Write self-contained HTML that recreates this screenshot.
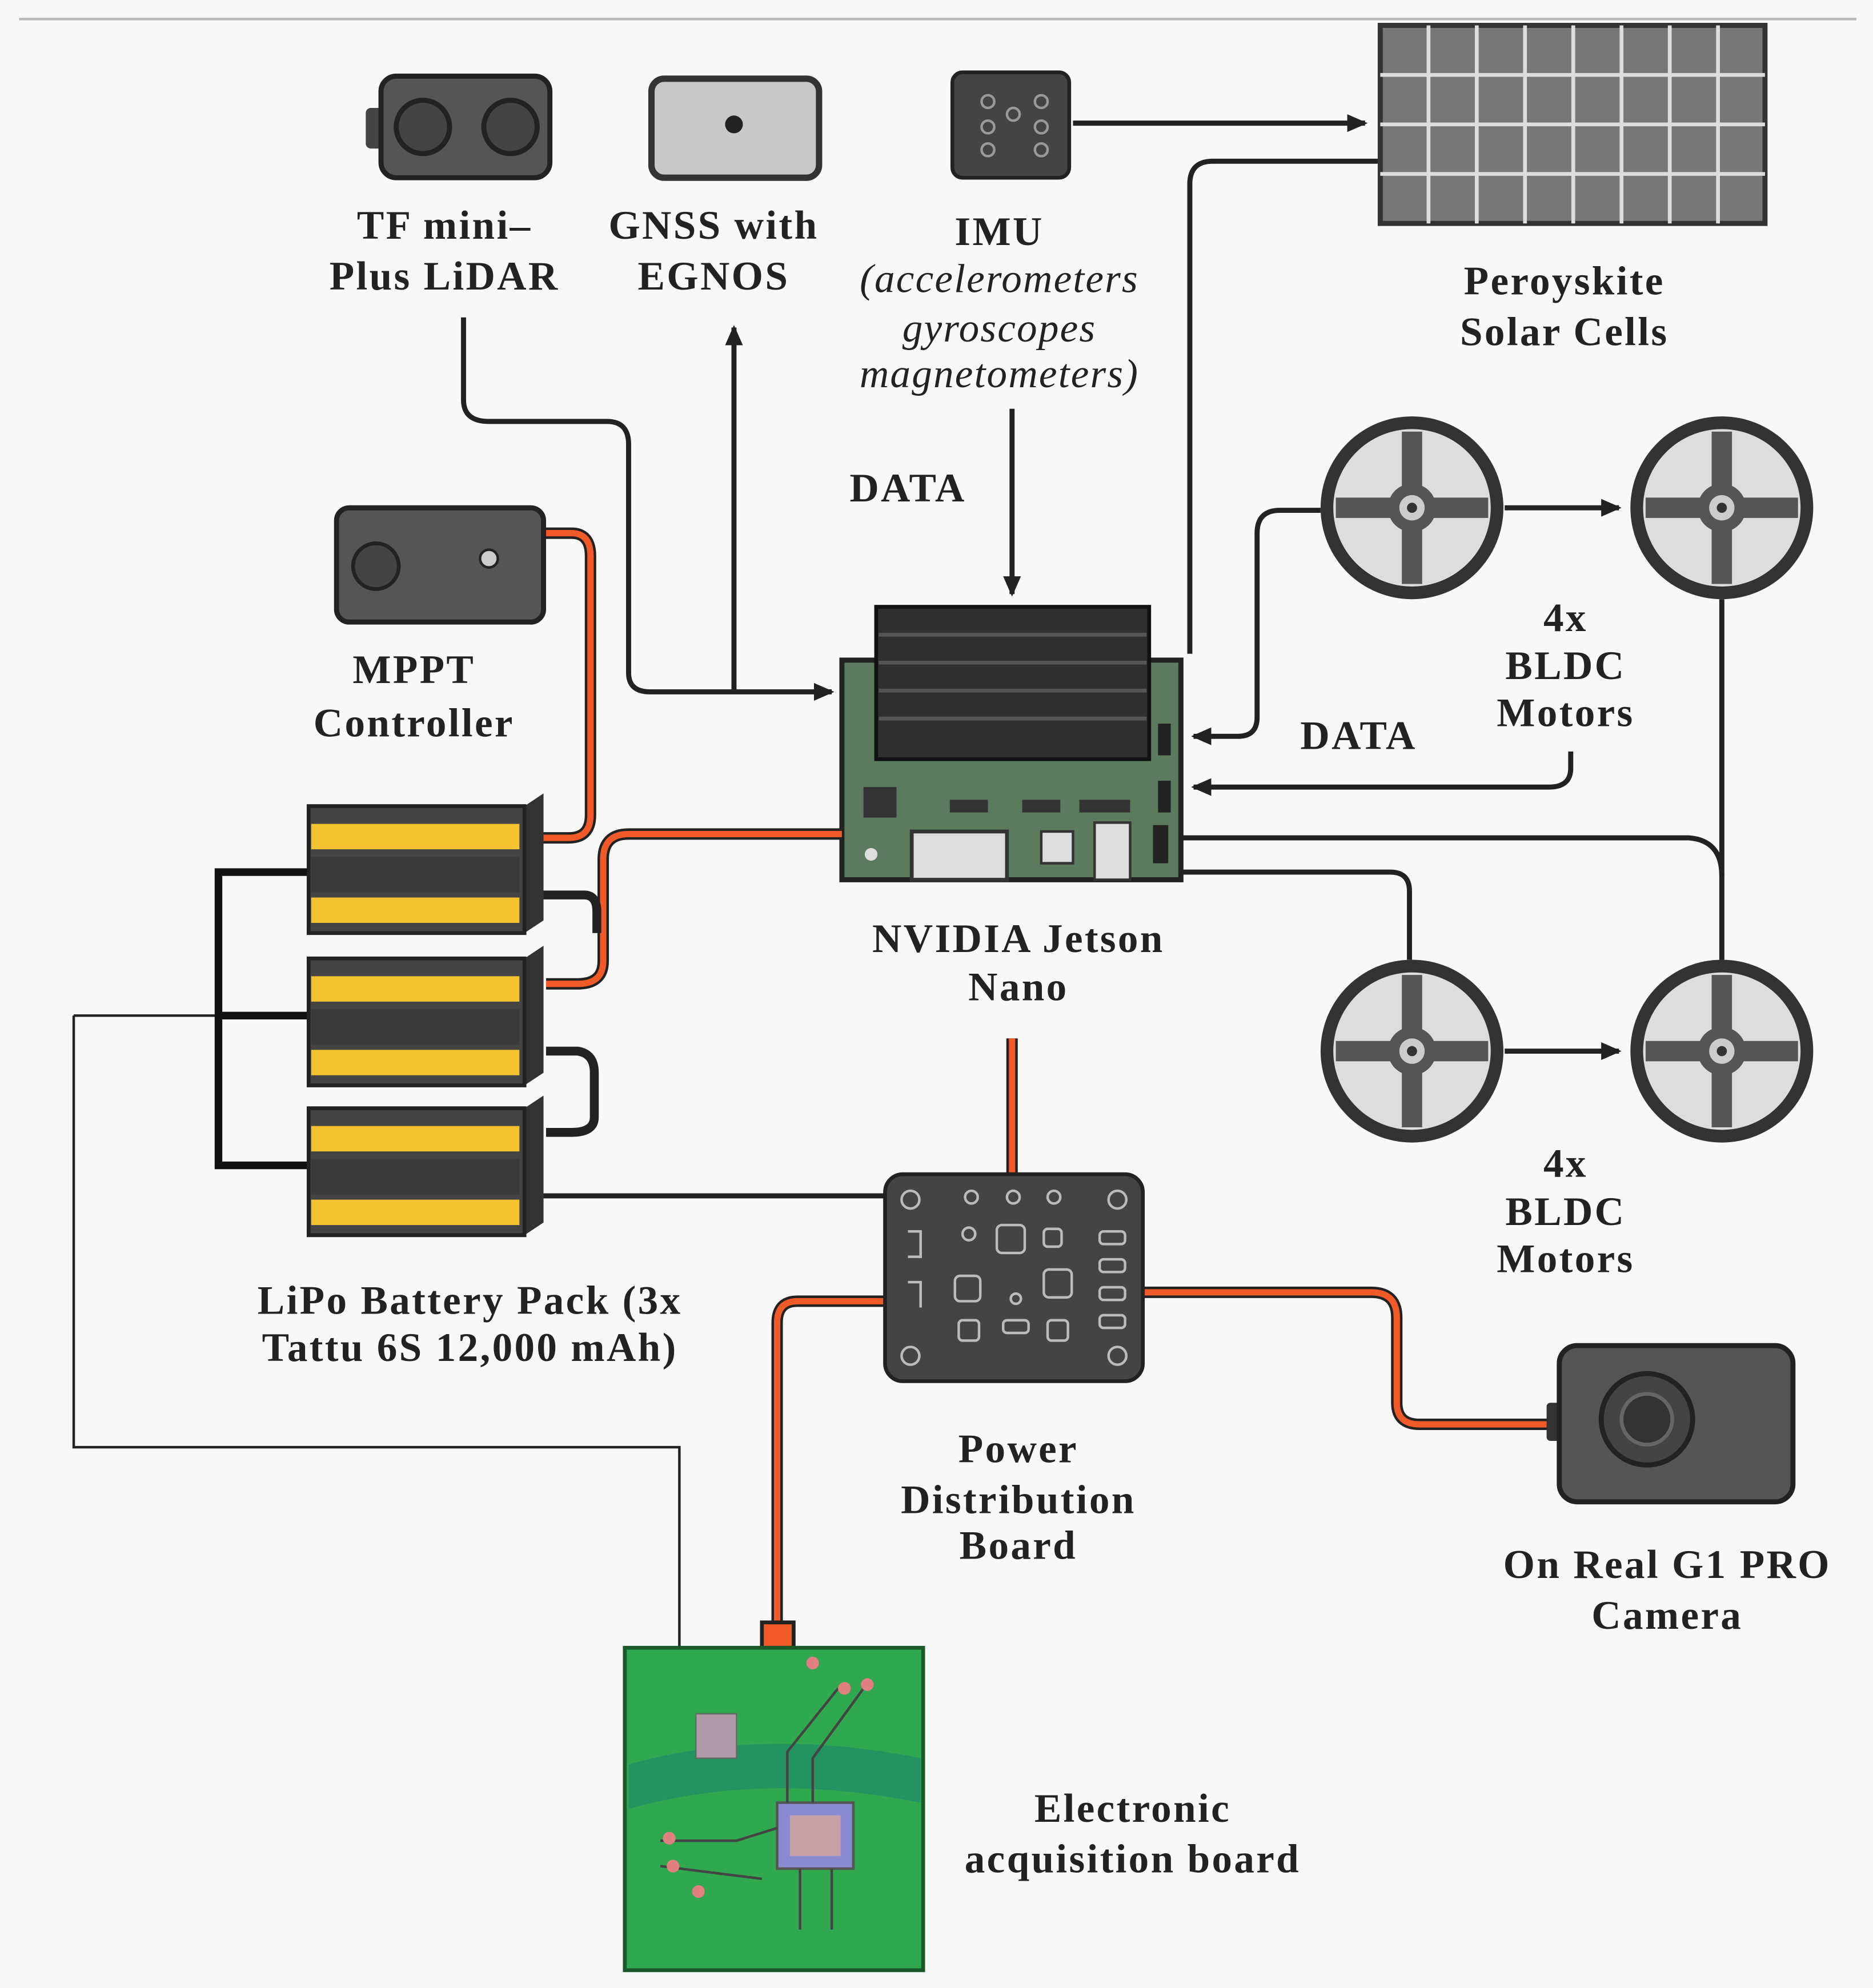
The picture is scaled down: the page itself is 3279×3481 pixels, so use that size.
<!DOCTYPE html>
<html><head><meta charset="utf-8"><style>
html,body{margin:0;padding:0;background:#fff}
svg{display:block}
text{font-family:"Liberation Serif",serif;font-weight:bold;font-size:32px;letter-spacing:1.5px;fill:#222;text-anchor:middle}
</style></head><body>
<svg width="3279" height="3481" viewBox="0 0 1475 1566" xmlns="http://www.w3.org/2000/svg">
<defs>
<marker id="b" markerWidth="16" markerHeight="14" refX="14" refY="7" orient="auto" markerUnits="userSpaceOnUse"><path d="M0,0 L16,7 L0,14 z" fill="#222"/></marker>
<g id="motor">
<circle r="72" fill="#333"/><circle r="62" fill="#ddd"/>
<rect x="-60" y="-8" width="120" height="16" fill="#555"/><rect x="-8" y="-60" width="16" height="120" fill="#555"/>
<circle r="19" fill="#555"/><circle r="10" fill="#ccc"/><circle r="4" fill="#333"/>
</g>
<g id="bat">
<path d="M0,0 L170,0 L185,-10 L185,90 L170,100 L0,100 z" fill="#333"/>
<rect x="0" y="0" width="170" height="100" fill="#444" stroke="#222" stroke-width="3"/>
<rect x="2" y="14" width="164" height="20" fill="#f4c430"/>
<rect x="2" y="72" width="164" height="20" fill="#f4c430"/>
<rect x="2" y="40" width="164" height="28" fill="#3a3a3a"/>
</g>
</defs>
<rect width="1475" height="1566" fill="#f8f8f8"/>
<line x1="15" y1="15" x2="1462" y2="15" stroke="#bbb" stroke-width="2"/>

<rect x="288" y="85" width="16" height="32" rx="4" fill="#444"/>
<rect x="300" y="60" width="133" height="80" rx="12" fill="#555" stroke="#222" stroke-width="4"/>
<circle cx="333" cy="100" r="21" fill="#444" stroke="#222" stroke-width="4"/>
<circle cx="402" cy="100" r="21" fill="#444" stroke="#222" stroke-width="4"/>
<rect x="513" y="62" width="132" height="78" rx="10" fill="#c8c8c8" stroke="#333" stroke-width="5"/>
<circle cx="578" cy="98" r="7" fill="#222"/>
<rect x="750" y="57" width="92" height="83" rx="8" fill="#444" stroke="#222" stroke-width="3"/>
<g fill="none" stroke="#999" stroke-width="2"><circle cx="778" cy="80" r="5"/><circle cx="820" cy="80" r="5"/><circle cx="778" cy="100" r="5"/><circle cx="820" cy="100" r="5"/><circle cx="778" cy="118" r="5"/><circle cx="820" cy="118" r="5"/><circle cx="798" cy="90" r="5"/></g>
<rect x="1087" y="20" width="303" height="156" fill="#777" stroke="#333" stroke-width="4"/>
<g stroke="#ddd" stroke-width="3">
<line x1="1125" y1="20" x2="1125" y2="176"/><line x1="1163" y1="20" x2="1163" y2="176"/><line x1="1201" y1="20" x2="1201" y2="176"/><line x1="1239" y1="20" x2="1239" y2="176"/><line x1="1277" y1="20" x2="1277" y2="176"/><line x1="1315" y1="20" x2="1315" y2="176"/><line x1="1353" y1="20" x2="1353" y2="176"/>
<line x1="1087" y1="59" x2="1390" y2="59"/><line x1="1087" y1="98" x2="1390" y2="98"/><line x1="1087" y1="137" x2="1390" y2="137"/></g>

<text x="350" y="188">TF mini–</text><text x="350" y="228">Plus LiDAR</text>
<text x="562" y="188">GNSS with</text><text x="562" y="228">EGNOS</text>
<text x="787" y="193">IMU</text>
<text x="787" y="230" style="font-style:italic;font-weight:normal;letter-spacing:1px">(accelerometers</text>
<text x="787" y="269" style="font-style:italic;font-weight:normal;letter-spacing:1px">gyroscopes</text>
<text x="787" y="305" style="font-style:italic;font-weight:normal;letter-spacing:1px">magnetometers)</text>
<text x="1232" y="232">Peroyskite</text><text x="1232" y="272">Solar Cells</text>
<text x="715" y="395">DATA</text>
<text x="1070" y="590">DATA</text>

<g fill="none" stroke="#222" stroke-width="4">
<line x1="845" y1="97" x2="1075" y2="97" marker-end="url(#b)"/>
<path d="M937,515 L937,145 Q937,127 955,127 L1085,127"/>
<path d="M365,250 L365,315 Q365,332 385,332 L478,332 Q495,332 495,350 L495,530 Q495,545 512,545 L655,545" marker-end="url(#b)"/>
<line x1="578" y1="545" x2="578" y2="258" marker-end="url(#b)"/>
<line x1="797" y1="322" x2="797" y2="468" marker-end="url(#b)"/>
<path d="M1040,402 L1008,402 Q990,402 990,420 L990,565 Q990,580 975,580 L940,580" marker-end="url(#b)"/>
<path d="M1237,592 L1237,605 Q1237,620 1220,620 L940,620" marker-end="url(#b)"/>
<line x1="1185" y1="400" x2="1275" y2="400" marker-end="url(#b)"/>
<line x1="1185" y1="828" x2="1275" y2="828" marker-end="url(#b)"/>
<line x1="1356" y1="472" x2="1356" y2="756"/>
<path d="M930,660 L1330,660 Q1356,662 1356,690"/>
<path d="M930,687 L1095,687 Q1110,687 1110,702 L1110,756"/>
<line x1="428" y1="942" x2="700" y2="942"/>
</g>
<path d="M58,800 L243,800 M58,800 L58,1140 L535,1140 L535,1300" fill="none" stroke="#222" stroke-width="2"/>
<path d="M245,687 L172,687 L172,918 L245,918 M172,800 L245,800" fill="none" stroke="#111" stroke-width="6"/>

<rect x="663" y="520" width="267" height="173" fill="#5b7a5e" stroke="#222" stroke-width="4"/>
<rect x="690" y="478" width="215" height="120" fill="#2f2f2f" stroke="#111" stroke-width="3"/>
<g stroke="#555" stroke-width="3"><line x1="692" y1="500" x2="903" y2="500"/><line x1="692" y1="522" x2="903" y2="522"/><line x1="692" y1="544" x2="903" y2="544"/><line x1="692" y1="566" x2="903" y2="566"/></g>
<rect x="680" y="620" width="26" height="24" fill="#333"/>
<rect x="748" y="630" width="30" height="10" fill="#333"/><rect x="805" y="630" width="30" height="10" fill="#333"/><rect x="850" y="630" width="40" height="10" fill="#333"/>
<rect x="718" y="655" width="75" height="38" fill="#ddd" stroke="#333" stroke-width="3"/>
<rect x="820" y="655" width="25" height="25" fill="#ddd" stroke="#333" stroke-width="2"/>
<rect x="862" y="648" width="28" height="45" fill="#ddd" stroke="#333" stroke-width="2"/>
<rect x="912" y="570" width="10" height="25" fill="#222"/><rect x="912" y="615" width="10" height="25" fill="#222"/><rect x="908" y="650" width="12" height="30" fill="#222"/>
<circle cx="686" cy="673" r="5" fill="#ddd"/>
<text x="802" y="750">NVIDIA Jetson</text><text x="802" y="788">Nano</text>

<use href="#motor" x="1112" y="400"/><use href="#motor" x="1356" y="400"/>
<use href="#motor" x="1112" y="828"/><use href="#motor" x="1356" y="828"/>
<text x="1233" y="497">4x</text><text x="1233" y="535">BLDC</text><text x="1233" y="572">Motors</text>
<text x="1233" y="927">4x</text><text x="1233" y="965">BLDC</text><text x="1233" y="1002">Motors</text>

<g fill="none" stroke="#222" stroke-width="9" stroke-linejoin="round">
<path d="M428,420 L450,420 Q465,420 465,438 L465,642 Q465,660 448,660 L428,660"/>
<path d="M663,657 L495,657 Q475,657 475,677 L475,757 Q475,775 455,775 L430,775"/>
<path d="M797,818 L797,925"/>
<path d="M697,1025 L628,1025 Q612,1025 612,1042 L612,1285"/>
<path d="M900,1018 L1080,1018 Q1100,1018 1100,1038 L1100,1105 Q1100,1122 1118,1122 L1222,1122"/>
</g>
<g fill="none" stroke="#f05a28" stroke-width="5" stroke-linejoin="round">
<path d="M428,420 L450,420 Q465,420 465,438 L465,642 Q465,660 448,660 L428,660"/>
<path d="M663,657 L495,657 Q475,657 475,677 L475,757 Q475,775 455,775 L430,775"/>
<path d="M797,818 L797,925"/>
<path d="M697,1025 L628,1025 Q612,1025 612,1042 L612,1285"/>
<path d="M900,1018 L1080,1018 Q1100,1018 1100,1038 L1100,1105 Q1100,1122 1118,1122 L1222,1122"/>
</g>
<g fill="none" stroke="#222" stroke-width="7">
<path d="M428,705 L460,705 Q470,705 470,718 L470,735"/>
<path d="M430,828 L455,828 Q468,830 468,845 L468,880 Q468,892 450,892 L430,892"/>
</g>

<rect x="265" y="400" width="163" height="90" rx="10" fill="#555" stroke="#222" stroke-width="4"/>
<circle cx="296" cy="446" r="18" fill="#444" stroke="#222" stroke-width="3"/>
<circle cx="385" cy="440" r="7" fill="#ccc" stroke="#222" stroke-width="2"/>
<text x="326" y="538">MPPT</text><text x="326" y="580">Controller</text>

<use href="#bat" x="243" y="635"/><use href="#bat" x="243" y="755"/><use href="#bat" x="243" y="873"/>
<text x="370" y="1035">LiPo Battery Pack (3x</text><text x="370" y="1072">Tattu 6S 12,000 mAh)</text>

<rect x="697" y="925" width="203" height="163" rx="14" fill="#444" stroke="#222" stroke-width="3"/>
<g fill="none" stroke="#bbb" stroke-width="2">
<circle cx="717" cy="945" r="7"/><circle cx="880" cy="945" r="7"/><circle cx="717" cy="1068" r="7"/><circle cx="880" cy="1068" r="7"/>
<circle cx="765" cy="943" r="5"/><circle cx="798" cy="943" r="5"/><circle cx="830" cy="943" r="5"/>
<rect x="785" y="965" width="22" height="22" rx="4"/><rect x="822" y="968" width="14" height="14" rx="3"/><circle cx="763" cy="972" r="5"/>
<rect x="752" y="1005" width="20" height="20" rx="4"/><rect x="822" y="1000" width="22" height="22" rx="4"/><circle cx="800" cy="1023" r="4"/>
<rect x="866" y="970" width="20" height="10" rx="3"/><rect x="866" y="992" width="20" height="10" rx="3"/><rect x="866" y="1014" width="20" height="10" rx="3"/><rect x="866" y="1036" width="20" height="10" rx="3"/>
<rect x="755" y="1040" width="16" height="16" rx="3"/><rect x="790" y="1040" width="20" height="10" rx="3"/><rect x="825" y="1040" width="16" height="16" rx="3"/>
<path d="M715,970 L725,970 L725,990 L715,990"/><path d="M715,1010 L725,1010 L725,1030"/>
</g>
<text x="802" y="1152">Power</text><text x="802" y="1192">Distribution</text><text x="802" y="1228">Board</text>

<rect x="1218" y="1105" width="14" height="30" rx="3" fill="#333"/>
<rect x="1228" y="1060" width="184" height="123" rx="14" fill="#555" stroke="#222" stroke-width="4"/>
<circle cx="1297" cy="1118" r="36" fill="#444" stroke="#222" stroke-width="4"/>
<circle cx="1297" cy="1118" r="20" fill="#333" stroke="#666" stroke-width="3"/>
<text x="1313" y="1243">On Real G1 PRO</text><text x="1313" y="1283">Camera</text>

<rect x="600" y="1278" width="25" height="20" fill="#f05a28" stroke="#222" stroke-width="3"/>
<rect x="492" y="1298" width="235" height="254" fill="#2fa84f" stroke="#1a5a2a" stroke-width="3"/>
<path d="M495,1390 Q600,1360 725,1385 L725,1420 Q600,1395 495,1425 z" fill="#1e8a6a" opacity="0.7"/>
<rect x="548" y="1350" width="32" height="35" fill="#b09aa8" stroke="#666"/>
<rect x="612" y="1420" width="60" height="52" fill="#8a8ad0" stroke="#555" stroke-width="2"/>
<rect x="622" y="1430" width="40" height="32" fill="#c8a0a8"/>
<g fill="none" stroke="#444" stroke-width="2"><path d="M620,1420 L620,1380 L660,1330"/><path d="M640,1420 L640,1385 L680,1330"/><path d="M520,1450 L580,1450 L612,1440"/><path d="M520,1470 L600,1480"/><path d="M630,1472 L630,1520"/><path d="M655,1472 L655,1520"/></g>
<g fill="#e08080"><circle cx="640" cy="1310" r="5"/><circle cx="665" cy="1330" r="5"/><circle cx="683" cy="1327" r="5"/><circle cx="527" cy="1448" r="5"/><circle cx="530" cy="1470" r="5"/><circle cx="550" cy="1490" r="5"/></g>
<text x="892" y="1435">Electronic</text><text x="892" y="1475">acquisition board</text>
</svg>
</body></html>
